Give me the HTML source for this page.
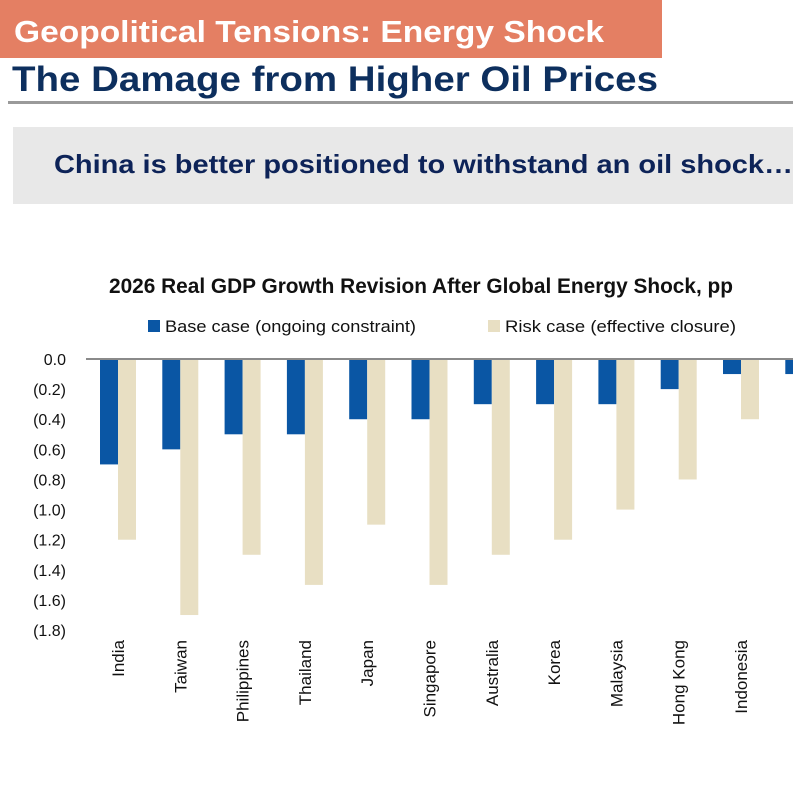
<!DOCTYPE html>
<html><head><meta charset="utf-8"><style>
html,body{margin:0;padding:0;background:#fff;width:793px;height:792px;overflow:hidden}
svg{display:block;font-family:"Liberation Sans",Arial,sans-serif}
</style></head><body>
<svg id="c" width="793" height="792" xmlns="http://www.w3.org/2000/svg">
<rect x="0" y="0" width="662" height="58" fill="#e47f63"/>
<text x="14" y="42" font-size="31" font-weight="bold" fill="#fff" textLength="590" lengthAdjust="spacingAndGlyphs">Geopolitical Tensions: Energy Shock</text>
<text x="12" y="91" font-size="35" font-weight="bold" fill="#0d2f5e" textLength="646" lengthAdjust="spacingAndGlyphs">The Damage from Higher Oil Prices</text>
<rect x="8" y="101" width="785" height="3" fill="#9a9a9a"/>
<rect x="13" y="127" width="780" height="77" fill="#e8e8e8"/>
<text x="54" y="173" font-size="26" font-weight="bold" fill="#0d2358" textLength="739" lengthAdjust="spacingAndGlyphs">China is better positioned to withstand an oil shock…</text>
<text x="421" y="293" font-size="21" font-weight="bold" fill="#111" text-anchor="middle" textLength="624" lengthAdjust="spacingAndGlyphs">2026 Real GDP Growth Revision After Global Energy Shock, pp</text>
<rect x="148" y="320" width="12" height="12" fill="#0a56a4"/>
<text x="165" y="332" font-size="17" fill="#111" textLength="251" lengthAdjust="spacingAndGlyphs">Base case (ongoing constraint)</text>
<rect x="488" y="320" width="12" height="12" fill="#e8dfc3"/>
<text x="505" y="332" font-size="17" fill="#111" textLength="231" lengthAdjust="spacingAndGlyphs">Risk case (effective closure)</text>
<g id="plot"></g>
</svg>
<script>
const categories=["India","Taiwan","Philippines","Thailand","Japan","Singapore","Australia","Korea","Malaysia","Hong Kong","Indonesia","China"];
const baseCase=[-0.7,-0.6,-0.5,-0.5,-0.4,-0.4,-0.3,-0.3,-0.3,-0.2,-0.1,-0.1];
const riskCase=[-1.2,-1.7,-1.3,-1.5,-1.1,-1.5,-1.3,-1.2,-1.0,-0.8,-0.4,-0.3];
const yTicks=[0,-0.2,-0.4,-0.6,-0.8,-1.0,-1.2,-1.4,-1.6,-1.8];
const yTickLabels=["0.0","(0.2)","(0.4)","(0.6)","(0.8)","(1.0)","(1.2)","(1.4)","(1.6)","(1.8)"];
const NS="http://www.w3.org/2000/svg";
const g=document.getElementById('plot');
const y0=359,pxPer=150.6,x0=86,step=62.3;
const yScale=v=>y0-v*pxPer;
const xCenter=i=>x0+31+i*step;
function mk(t,a){const e=document.createElementNS(NS,t);for(const k in a)e.setAttribute(k,a[k]);g.appendChild(e);return e;}
yTicks.forEach((v,i)=>{
  const t=mk('text',{x:66,y:yScale(v)+6,'font-size':16,fill:'#111','text-anchor':'end'});
  t.textContent=yTickLabels[i];
  
  
});
categories.forEach((c,i)=>{
  const cx=xCenter(i);
  const b=mk('rect',{x:cx-17,y:y0,width:18,height:yScale(baseCase[i])-y0,fill:'#0a56a4'});
  
  
  const r=mk('rect',{x:cx+1,y:y0,width:18,height:yScale(riskCase[i])-y0,fill:'#e8dfc3'});
  
  
  const tx=cx+7,ty=640;
  const l=mk('text',{x:tx,y:ty,'font-size':17,fill:'#111','text-anchor':'end',transform:`rotate(-90 ${tx} ${ty})`});
  l.textContent=c;
  
  
});
const ax=mk('line',{x1:x0,y1:y0,x2:793,y2:y0,stroke:'#8a8a8a','stroke-width':2});


</script>
</body></html>
